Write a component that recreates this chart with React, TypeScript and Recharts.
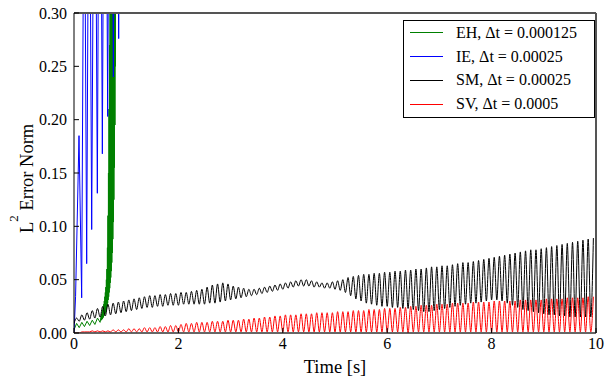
import { Legend, Line, LineChart, ReferenceLine, XAxis, YAxis } from "recharts";

const SERIF = "Liberation Serif";

const X_TICKS = [0, 2, 4, 6, 8, 10];
const Y_TICKS = [0, 0.05, 0.1, 0.15, 0.2, 0.25, 0.3];

// EH, dt = 0.000125 (blows up just before 1 s)
const EH_T = [
  0, 0.05, 0.1, 0.15, 0.2, 0.25, 0.3, 0.35, 0.4, 0.45, 0.5,
  0.52, 0.525, 0.53, 0.535, 0.54, 0.545, 0.55, 0.555, 0.56, 0.565,
  0.57, 0.575, 0.58, 0.585, 0.59, 0.595, 0.6, 0.605, 0.61, 0.615,
  0.62, 0.625, 0.63, 0.635, 0.64, 0.645, 0.65, 0.655, 0.66, 0.665,
  0.67, 0.675, 0.68, 0.685, 0.69, 0.695, 0.7, 0.705, 0.71, 0.715,
  0.72, 0.725, 0.73, 0.735, 0.74, 0.745, 0.75, 0.755, 0.76, 0.765,
  0.77, 0.775, 0.78, 0.785, 0.79, 0.795, 0.8, 0.805, 0.81, 0.815, 0.82,
];
const EH_V = [
  0.003, 0.009, 0.005, 0.010, 0.006, 0.011, 0.007, 0.012, 0.008, 0.014, 0.010,
  0.016, 0.012, 0.018, 0.013, 0.020, 0.013, 0.022, 0.014, 0.024, 0.015,
  0.027, 0.016, 0.030, 0.017, 0.034, 0.018, 0.038, 0.019, 0.043, 0.021,
  0.050, 0.023, 0.060, 0.025, 0.080, 0.028, 0.110, 0.031, 0.150, 0.034,
  0.210, 0.038, 0.270, 0.042, 0.320, 0.047, 0.360, 0.052, 0.400, 0.058,
  0.440, 0.066, 0.480, 0.075, 0.520, 0.088, 0.560, 0.104, 0.600, 0.125,
  0.640, 0.155, 0.680, 0.195, 0.720, 0.250, 0.760, 0.320, 0.800, 0.400, 0.850,
];

// IE, dt = 0.00025 (unstable from the start)
const IE_T = [
  0, 0.03, 0.096, 0.147, 0.195, 0.243, 0.29, 0.339, 0.395, 0.447,
  0.495, 0.543, 0.595, 0.645, 0.7, 0.754, 0.805, 0.856, 0.91, 0.96, 1.0,
];
const IE_V = [
  0, 0.034, 0.185, 0.033, 0.5, 0.065, 0.55, 0.097, 0.6, 0.131,
  0.65, 0.168, 0.7, 0.203, 0.75, 0.24, 0.8, 0.276, 0.9, 0.31, 1.0,
];

// SM, dt = 0.00025 : troughs at k*0.1 s, peaks half a period later
const SM_TROUGH = [
  0.009, 0.011, 0.012, 0.013, 0.014, 0.015, 0.016, 0.017, 0.018, 0.019,
  0.020, 0.021, 0.022, 0.023, 0.024, 0.024, 0.025, 0.025, 0.026, 0.026,
  0.026, 0.027, 0.027, 0.027, 0.027, 0.027, 0.028, 0.028, 0.029, 0.030,
  0.031, 0.032, 0.033, 0.034, 0.035, 0.036, 0.037, 0.038, 0.039, 0.040,
  0.041, 0.042, 0.043, 0.044, 0.044, 0.044, 0.043, 0.043, 0.042, 0.042,
  0.041, 0.040, 0.038, 0.035, 0.032, 0.030, 0.028, 0.027, 0.026, 0.025,
  0.025, 0.024, 0.024, 0.023, 0.023, 0.022, 0.021, 0.020, 0.020, 0.021,
  0.022, 0.023, 0.024, 0.025, 0.026, 0.027, 0.028, 0.028, 0.029, 0.030,
  0.031, 0.031, 0.030, 0.028, 0.026, 0.024, 0.022, 0.021, 0.020, 0.019,
  0.018, 0.017, 0.017, 0.016, 0.016, 0.015, 0.015, 0.015, 0.015, 0.015,
];
const SM_PEAK = [
  0.014, 0.017, 0.019, 0.021, 0.023, 0.025, 0.027, 0.028, 0.029, 0.030,
  0.031, 0.032, 0.033, 0.034, 0.035, 0.035, 0.036, 0.036, 0.037, 0.037,
  0.038, 0.038, 0.039, 0.040, 0.041, 0.043, 0.045, 0.046, 0.047, 0.046,
  0.044, 0.043, 0.042, 0.041, 0.041, 0.042, 0.043, 0.044, 0.045, 0.046,
  0.047, 0.048, 0.049, 0.050, 0.050, 0.049, 0.048, 0.047, 0.047, 0.048,
  0.049, 0.050, 0.052, 0.053, 0.054, 0.055, 0.055, 0.056, 0.056, 0.057,
  0.057, 0.058, 0.058, 0.059, 0.059, 0.060, 0.060, 0.061, 0.062, 0.062,
  0.063, 0.063, 0.064, 0.065, 0.066, 0.066, 0.067, 0.068, 0.069, 0.070,
  0.071, 0.072, 0.073, 0.074, 0.075, 0.076, 0.077, 0.078, 0.078, 0.079,
  0.080, 0.081, 0.082, 0.083, 0.084, 0.085, 0.086, 0.087, 0.088, 0.089,
];

// SV, dt = 0.0005
const SV_TROUGH = [
  0.000, 0.000, 0.001, 0.001, 0.001, 0.001, 0.001, 0.001, 0.001, 0.001,
  0.001, 0.001, 0.001, 0.001, 0.001, 0.001, 0.001, 0.001, 0.001, 0.001,
  0.001, 0.001, 0.001, 0.001, 0.001, 0.001, 0.001, 0.001, 0.001, 0.001,
  0.001, 0.001, 0.001, 0.001, 0.001, 0.001, 0.001, 0.001, 0.001, 0.001,
  0.001, 0.001, 0.001, 0.001, 0.001, 0.001, 0.001, 0.001, 0.001, 0.001,
  0.001, 0.001, 0.001, 0.001, 0.001, 0.001, 0.001, 0.001, 0.001, 0.001,
  0.001, 0.001, 0.001, 0.001, 0.000, 0.001, 0.001, 0.001, 0.001, 0.001,
  0.001, 0.001, 0.001, 0.001, 0.001, 0.001, 0.001, 0.001, 0.001, 0.001,
  0.001, 0.001, 0.001, 0.001, 0.001, 0.001, 0.001, 0.001, 0.001, 0.001,
  0.001, 0.001, 0.001, 0.001, 0.001, 0.001, 0.001, 0.001, 0.001, 0.001,
];
const SV_PEAK = [
  0.000, 0.001, 0.001, 0.002, 0.002, 0.002, 0.002, 0.003, 0.003, 0.003,
  0.004, 0.004, 0.004, 0.005, 0.005, 0.005, 0.006, 0.006, 0.007, 0.007,
  0.008, 0.009, 0.009, 0.010, 0.010, 0.010, 0.011, 0.011, 0.011, 0.012,
  0.012, 0.012, 0.013, 0.013, 0.014, 0.014, 0.015, 0.015, 0.016, 0.016,
  0.017, 0.017, 0.017, 0.018, 0.018, 0.018, 0.019, 0.019, 0.019, 0.019,
  0.020, 0.020, 0.020, 0.021, 0.021, 0.021, 0.022, 0.022, 0.022, 0.023,
  0.023, 0.023, 0.024, 0.024, 0.025, 0.025, 0.026, 0.026, 0.026, 0.027,
  0.027, 0.027, 0.028, 0.028, 0.028, 0.028, 0.029, 0.029, 0.029, 0.029,
  0.030, 0.030, 0.030, 0.030, 0.030, 0.031, 0.031, 0.031, 0.031, 0.031,
  0.032, 0.032, 0.032, 0.032, 0.033, 0.033, 0.033, 0.033, 0.034, 0.034,
];

const PERIOD = 0.1; // oscillation period of the SM / SV errors

const pairs = (ts: number[], vs: number[]) => ts.map((t, i) => ({ t, v: vs[i] }));

const zigzag = (troughs: number[], peaks: number[]) =>
  troughs.flatMap((tr, i) => [
    { t: +(i * PERIOD).toFixed(3), v: tr },
    { t: +(i * PERIOD + PERIOD / 2).toFixed(3), v: peaks[i] },
  ]);

const ehData = pairs(EH_T, EH_V);
const ieData = pairs(IE_T, IE_V);
const smData = zigzag(SM_TROUGH, SM_PEAK);
const svData = zigzag(SV_TROUGH, SV_PEAK);

function XTick({ x, y, payload }: any) {
  return (
    <text x={x} y={y} dy="0.71em" textAnchor="middle" fontSize={16} fill="#000" fontFamily={SERIF}>
      {payload.value}
    </text>
  );
}

function YTick({ x, y, payload }: any) {
  return (
    <text x={x} y={y} dy="0.35em" textAnchor="end" fontSize={16} fill="#000" fontFamily={SERIF}>
      {Number(payload.value).toFixed(2)}
    </text>
  );
}

function LegendBox({ payload }: any) {
  return (
    <div
      style={{
        width: 192,
        height: 98,
        boxSizing: "border-box",
        border: "1px solid #000",
        background: "#fff",
        fontFamily: SERIF,
        fontSize: 16,
        color: "#000",
      }}
    >
      {(payload || []).map((p: any) => (
        <div key={p.value} style={{ display: "flex", alignItems: "center", height: 23.8 }}>
          <span
            style={{
              display: "inline-block",
              width: 33,
              borderTop: `1px solid ${p.color}`,
              marginLeft: 6,
              marginRight: 13,
            }}
          />
          <span>{p.value}</span>
        </div>
      ))}
    </div>
  );
}

const xLabel = () => (
  <text x={335} y={373} textAnchor="middle" fontSize={18.5} fill="#000" fontFamily={SERIF}>
    Time [s]
  </text>
);

const yLabel = () => (
  <text transform="translate(33,233) rotate(-90)" fontSize={18.5} fill="#000" fontFamily={SERIF}>
    <tspan>L</tspan>
    <tspan dy={-15} fontSize={13}>2</tspan>
    <tspan dy={15}> Error Norm</tspan>
  </text>
);

export default function App() {
  return (
    <div style={{ position: "absolute", left: 0, top: 0, fontFamily: SERIF }}>
      <LineChart width={610} height={379} margin={{ top: 13, right: 14, left: 0, bottom: 0 }} style={{ fontFamily: SERIF }}>
        <Line data={ehData} dataKey="v" name="EH, Δt = 0.000125" type="linear" stroke="#008000" strokeWidth={1} dot={false} activeDot={false} isAnimationActive={false} />
        <Line data={ieData} dataKey="v" name="IE, Δt = 0.00025" type="linear" stroke="#0000ff" strokeWidth={1} dot={false} activeDot={false} isAnimationActive={false} />
        <Line data={smData} dataKey="v" name="SM, Δt = 0.00025" type="monotone" stroke="#000000" strokeWidth={1} dot={false} activeDot={false} isAnimationActive={false} />
        <Line data={svData} dataKey="v" name="SV, Δt = 0.0005" type="monotone" stroke="#ff0000" strokeWidth={1} dot={false} activeDot={false} isAnimationActive={false} />
        <XAxis
          dataKey="t"
          type="number"
          domain={[0, 10]}
          ticks={X_TICKS}
          allowDataOverflow
          height={46}
          tick={<XTick />}
          tickSize={-5}
          tickMargin={10}
          axisLine={{ stroke: "#333", strokeWidth: 1.5 }}
          tickLine={{ stroke: "#000" }}
          label={xLabel}
        />
        <YAxis
          type="number"
          domain={[0, 0.3]}
          ticks={Y_TICKS}
          allowDataOverflow
          width={74}
          tick={<YTick />}
          tickSize={-5}
          tickMargin={12}
          axisLine={{ stroke: "#000", strokeWidth: 1 }}
          tickLine={{ stroke: "#000" }}
          label={yLabel}
        />
        <ReferenceLine y={0.3} stroke="#555" strokeWidth={2} />
        <ReferenceLine x={10} stroke="#555" strokeWidth={2} />
        <Legend
          layout="vertical"
          align="center"
          verticalAlign="middle"
          content={LegendBox}
          wrapperStyle={{ left: 403, top: 20, width: 192, height: 98 }}
        />
      </LineChart>
    </div>
  );
}
